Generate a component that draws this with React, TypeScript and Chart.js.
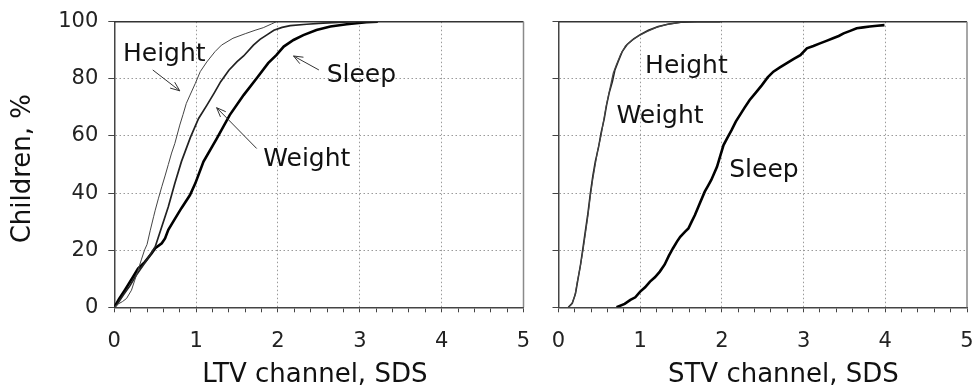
import React, { useEffect, useRef } from 'react';
import { Chart, registerables } from 'chart.js';

Chart.register(...registerables);

type Pt = [number, number];

// ---- Data (x = SDS, y = cumulative % of children) ----
const ltvHeight: Pt[] = [
  [0, 0], [0.05, 1.2], [0.1, 2], [0.15, 3.1], [0.21, 6], [0.25, 9.5], [0.29, 13], [0.33, 16.6],
  [0.37, 20.1], [0.4, 22], [0.44, 27], [0.48, 31.7], [0.5, 34], [0.54, 38.2], [0.58, 42.2],
  [0.62, 46], [0.66, 50], [0.7, 54], [0.74, 57.4], [0.8, 63.8], [0.84, 67.5], [0.88, 71.4],
  [0.925, 74.3], [0.99, 78.4], [1.05, 82.5], [1.13, 85.9], [1.23, 89.5], [1.31, 91.8],
  [1.45, 94.2], [1.6, 95.8], [1.72, 97], [1.82, 97.9], [1.92, 99.2], [1.98, 100],
];
const ltvWeight: Pt[] = [
  [0, 0], [0.03, 0.8], [0.11, 4.3], [0.19, 7.5], [0.27, 11.3], [0.355, 14.8], [0.436, 18.3],
  [0.5, 21.2], [0.54, 24.7], [0.58, 28.2], [0.62, 31.7], [0.66, 35.2], [0.7, 39.3], [0.74, 43.4],
  [0.82, 51], [0.93, 59.5], [1.03, 66.1], [1.13, 70.7], [1.22, 75], [1.3, 79], [1.4, 83],
  [1.5, 86], [1.58, 88], [1.7, 91.8], [1.78, 93.8], [1.86, 95.3], [1.95, 97], [2.05, 98],
  [2.15, 98.6], [2.35, 99.1], [2.55, 99.5], [2.8, 99.8], [2.95, 100],
];
const ltvSleep: Pt[] = [
  [0, 0], [0.06, 3], [0.13, 6.1], [0.23, 10.7], [0.29, 13.6], [0.375, 15.9], [0.457, 18.9],
  [0.5, 20.7], [0.58, 22.4], [0.62, 24.1], [0.66, 27.1], [0.72, 30], [0.82, 34.7], [0.925, 39.3],
  [0.99, 43.4], [1.09, 51], [1.25, 59], [1.41, 67.3], [1.58, 74.3], [1.74, 80.2], [1.88, 85.5],
  [1.98, 88.3], [2.07, 91.3], [2.19, 93.6], [2.31, 95.3], [2.47, 97.1], [2.64, 98.3],
  [2.84, 99.1], [3.08, 99.8], [3.22, 100],
];
const stvHeight: Pt[] = [
  [0.12, 0], [0.16, 1], [0.2, 4], [0.23, 9], [0.265, 14], [0.3, 20], [0.33, 26], [0.36, 32],
  [0.39, 39], [0.42, 45], [0.45, 50], [0.48, 55], [0.52, 60], [0.55, 65], [0.58, 70], [0.61, 74],
  [0.64, 78], [0.67, 82], [0.71, 85], [0.76, 88.5], [0.82, 91.5], [0.9, 93.5], [0.98, 95],
  [1.08, 96.5], [1.2, 98], [1.32, 99], [1.45, 99.6], [1.55, 100], [2.0, 100],
];
const stvWeight: Pt[] = [
  [0.12, 0], [0.17, 1.5], [0.21, 5], [0.24, 10], [0.27, 15], [0.3, 21], [0.33, 27], [0.36, 33],
  [0.39, 40], [0.42, 46], [0.45, 51], [0.49, 56], [0.52, 61], [0.56, 66], [0.59, 71], [0.62, 75],
  [0.66, 79], [0.69, 83], [0.73, 86], [0.78, 89.5], [0.84, 92], [0.92, 94], [1.0, 95.5],
  [1.1, 97], [1.22, 98.3], [1.35, 99.2], [1.5, 99.8], [1.7, 100], [1.98, 100],
];
const stvSleep: Pt[] = [
  [0.71, 0], [0.81, 1.2], [0.88, 2.6], [0.94, 3.5], [1.0, 5.5], [1.06, 7], [1.12, 9], [1.18, 10.5],
  [1.24, 12.5], [1.3, 15], [1.35, 18], [1.4, 20.6], [1.45, 23], [1.49, 24.7], [1.55, 26.5],
  [1.59, 27.6], [1.63, 30], [1.67, 32.3], [1.73, 36.4], [1.79, 40.5], [1.83, 42.5], [1.87, 44.6],
  [1.94, 49.2], [1.98, 53], [2.02, 56.8], [2.07, 59.5], [2.12, 62.1], [2.17, 65], [2.22, 67.3],
  [2.28, 70], [2.34, 72.6], [2.41, 75], [2.49, 77.8], [2.56, 80.5], [2.63, 82.5], [2.71, 84],
  [2.79, 85.4], [2.88, 87], [2.96, 88.3], [3.04, 90.7], [3.12, 91.5], [3.2, 92.4], [3.28, 93.3],
  [3.36, 94.2], [3.43, 95], [3.49, 95.9], [3.57, 96.8], [3.65, 97.7], [3.73, 98], [3.81, 98.3],
  [3.9, 98.6], [3.99, 98.8],
];

const xRange = [0, 5];
const yRange = [0, 100];
const xMinorStep = 0.2;
const yStep = 20;

// Annotation texts anchored in data coordinates (left edge, baseline)
const ltvLabels = [
  { text: 'Height', x: 0.106, y: 86.3 },
  { text: 'Weight', x: 1.82, y: 49.3 },
  { text: 'Sleep', x: 2.595, y: 79.0 },
];
const ltvArrows = [
  { from: [0.47, 83.1], to: [0.8, 75.8] },
  { from: [1.74, 55.6], to: [1.25, 69.9] },
  { from: [2.5, 83.1], to: [2.19, 88.0] },
];
const stvLabels = [
  { text: 'Height', x: 1.06, y: 81.9 },
  { text: 'Weight', x: 0.71, y: 64.4 },
  { text: 'Sleep', x: 2.09, y: 45.7 },
];

const FONT = '"DejaVu Sans", sans-serif';

const isInt = (v: number) => Math.abs(v - Math.round(v)) < 1e-6;

const framePlugin = {
  id: 'frame',
  afterDatasetsDraw(chart: any) {
    const { ctx, chartArea: a } = chart;
    ctx.save();
    ctx.lineWidth = 1.5;
    ctx.strokeStyle = '#333';
    ctx.beginPath();
    ctx.moveTo(a.left, a.top);
    ctx.lineTo(a.right, a.top);
    ctx.stroke();
    ctx.strokeStyle = '#8a8a8a';
    ctx.beginPath();
    ctx.moveTo(a.right, a.top);
    ctx.lineTo(a.right, a.bottom);
    ctx.stroke();
    ctx.restore();
  },
};

function annotationPlugin(labels: any[], arrows: any[]) {
  return {
    id: 'annot',
    afterDatasetsDraw(chart: any) {
      const { ctx } = chart;
      const sx = chart.scales.x;
      const sy = chart.scales.y;
      ctx.save();
      ctx.fillStyle = '#111';
      ctx.font = `25px ${FONT}`;
      ctx.textAlign = 'left';
      ctx.textBaseline = 'alphabetic';
      labels.forEach((l) => {
        ctx.fillText(l.text, sx.getPixelForValue(l.x), sy.getPixelForValue(l.y));
      });
      ctx.strokeStyle = '#333';
      ctx.lineWidth = 1;
      arrows.forEach((a) => {
        const x1 = sx.getPixelForValue(a.from[0]);
        const y1 = sy.getPixelForValue(a.from[1]);
        const x2 = sx.getPixelForValue(a.to[0]);
        const y2 = sy.getPixelForValue(a.to[1]);
        const ang = Math.atan2(y2 - y1, x2 - x1);
        const hl = 10;
        ctx.beginPath();
        ctx.moveTo(x1, y1);
        ctx.lineTo(x2, y2);
        ctx.moveTo(x2 - hl * Math.cos(ang - 0.38), y2 - hl * Math.sin(ang - 0.38));
        ctx.lineTo(x2, y2);
        ctx.lineTo(x2 - hl * Math.cos(ang + 0.38), y2 - hl * Math.sin(ang + 0.38));
        ctx.stroke();
      });
      ctx.restore();
    },
  };
}

type Series = { name: string; points: Pt[]; color: string; width: number };

function buildConfig(opts: {
  series: Series[];
  padding: any;
  yWidth: number;
  xHeight: number;
  showYLabels: boolean;
  xTitle: string;
  labels: any[];
  arrows: any[];
}): any {
  return {
    type: 'line',
    data: {
      datasets: opts.series.map((s) => ({
        label: s.name,
        data: s.points.map(([x, y]) => ({ x, y })),
        borderColor: s.color,
        borderWidth: s.width,
        pointRadius: 0,
        tension: 0,
        fill: false,
      })),
    },
    options: {
      responsive: false,
      maintainAspectRatio: false,
      animation: false,
      events: [],
      layout: { autoPadding: false, padding: opts.padding },
      plugins: { legend: { display: false }, tooltip: { enabled: false }, title: { display: false } },
      scales: {
        x: {
          type: 'linear',
          min: xRange[0],
          max: xRange[1],
          afterFit: (s: any) => {
            s.height = opts.xHeight;
            s.paddingLeft = 0;
            s.paddingRight = 0;
          },
          ticks: {
            stepSize: xMinorStep,
            maxTicksLimit: 100,
            autoSkip: false,
            maxRotation: 0,
            padding: 19,
            color: '#222',
            font: { family: FONT, size: 21, lineHeight: 1 },
            callback: (v: number) => (isInt(v) ? String(Math.round(v)) : ''),
          },
          grid: {
            color: (c: any) => {
              const v = c.tick ? c.tick.value : 0;
              return isInt(v) && v > xRange[0] && v < xRange[1] ? '#9a9a9a' : 'rgba(0,0,0,0)';
            },
            tickColor: '#444',
            tickLength: 5,
            lineWidth: 1,
          },
          border: { color: '#444', width: 1.5, dash: [1.5, 2.5] },
          title: {
            display: true,
            text: opts.xTitle,
            color: '#111',
            font: { family: FONT, size: 26, lineHeight: 1 },
            padding: { top: 0, bottom: 0 },
          },
        },
        y: {
          type: 'linear',
          min: yRange[0],
          max: yRange[1],
          afterFit: (s: any) => {
            s.width = opts.yWidth;
            s.paddingTop = 0;
            s.paddingBottom = 0;
          },
          ticks: {
            display: opts.showYLabels,
            stepSize: yStep,
            padding: 10,
            color: '#222',
            font: { family: FONT, size: 21, lineHeight: 1 },
          },
          grid: {
            color: (c: any) => {
              const v = c.tick ? c.tick.value : 0;
              return v > yRange[0] && v < yRange[1] ? '#9a9a9a' : 'rgba(0,0,0,0)';
            },
            tickColor: '#444',
            tickLength: 6,
            lineWidth: 1,
          },
          border: { color: '#444', width: 1.5, dash: [1.5, 2.5] },
          title: {
            display: opts.showYLabels,
            text: 'Children, %\u00a0',
            color: '#111',
            font: { family: FONT, size: 26, lineHeight: 1 },
            padding: { top: 10, bottom: 0 },
          },
        },
      },
    },
    plugins: [framePlugin, annotationPlugin(opts.labels, opts.arrows)],
  };
}

export default function App() {
  const leftRef = useRef<HTMLCanvasElement>(null);
  const rightRef = useRef<HTMLCanvasElement>(null);

  useEffect(() => {
    const left = new Chart(
      leftRef.current as HTMLCanvasElement,
      buildConfig({
        series: [
          { name: 'Height', points: ltvHeight, color: '#444', width: 1 },
          { name: 'Weight', points: ltvWeight, color: '#222', width: 1.7 },
          { name: 'Sleep', points: ltvSleep, color: '#000', width: 2.6 },
        ],
        padding: { left: 0, right: 16.5, top: 21.7, bottom: 0 },
        yWidth: 114.3,
        xHeight: 80.7,
        showYLabels: true,
        xTitle: 'LTV channel, SDS\u00a0',
        labels: ltvLabels,
        arrows: ltvArrows,
      })
    );
    const right = new Chart(
      rightRef.current as HTMLCanvasElement,
      buildConfig({
        series: [
          { name: 'Height', points: stvHeight, color: '#444', width: 1.2 },
          { name: 'Weight', points: stvWeight, color: '#222', width: 1.5 },
          { name: 'Sleep', points: stvSleep, color: '#000', width: 2.6 },
        ],
        padding: { left: 0, right: 7, top: 21.7, bottom: 0 },
        yWidth: 18.5,
        xHeight: 80.7,
        showYLabels: false,
        xTitle: '\u00a0\u00a0\u00a0\u00a0\u00a0STV channel, SDS',
        labels: stvLabels,
        arrows: [],
      })
    );
    return () => {
      left.destroy();
      right.destroy();
    };
  }, []);

  return (
    <div style={{ position: 'absolute', left: 0, top: 0, width: 974, height: 388, background: '#fff' }}>
      <canvas ref={leftRef} width={540} height={388} style={{ position: 'absolute', left: 0, top: 0, width: 540, height: 388 }} />
      <canvas ref={rightRef} width={434} height={388} style={{ position: 'absolute', left: 540, top: 0, width: 434, height: 388 }} />
    </div>
  );
}
